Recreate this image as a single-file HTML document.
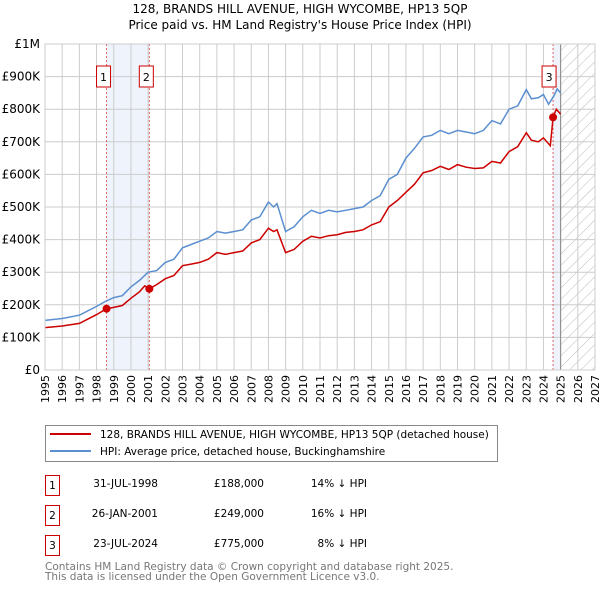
<!DOCTYPE html>
<html><head><meta charset="utf-8"><style>
body{margin:0;background:#fff;font-family:"DejaVu Sans","Liberation Sans",sans-serif;}
svg text{font-family:"DejaVu Sans","Liberation Sans",sans-serif;}
</style></head><body>
<svg id="c" width="600" height="590" xmlns="http://www.w3.org/2000/svg">
<defs><pattern id="hatch" width="8" height="8" patternUnits="userSpaceOnUse" patternTransform="rotate(45)"><line x1="0" y1="0" x2="0" y2="8" stroke="#bbb" stroke-width="1"/></pattern></defs>
<text x="300" y="13" text-anchor="middle" font-size="12">128, BRANDS HILL AVENUE, HIGH WYCOMBE, HP13 5QP</text>
<text x="300" y="29" text-anchor="middle" font-size="12">Price paid vs. HM Land Registry's House Price Index (HPI)</text>
<g id="plot"></g>
<g>
<rect x="45.5" y="425.5" width="452" height="36" fill="#fff" stroke="#888"/>
<line x1="50" y1="434" x2="91" y2="434" stroke="#cc0000" stroke-width="2"/>
<text x="100" y="438" font-size="10.5">128, BRANDS HILL AVENUE, HIGH WYCOMBE, HP13 5QP (detached house)</text>
<line x1="50" y1="451" x2="91" y2="451" stroke="#5b8fd0" stroke-width="2"/>
<text x="100" y="455" font-size="10.5">HPI: Average price, detached house, Buckinghamshire</text>
</g>
<g font-size="10.5">
<g><rect x="45.5" y="475.5" width="14" height="20" fill="none" stroke="#cc0000"/><text x="52.5" y="489" text-anchor="middle">1</text><text x="158" y="487" text-anchor="end">31-JUL-1998</text><text x="264" y="487" text-anchor="end">£188,000</text><text x="367" y="487" text-anchor="end">14% ↓ HPI</text></g>
<g><rect x="45.5" y="505.5" width="14" height="20" fill="none" stroke="#cc0000"/><text x="52.5" y="519" text-anchor="middle">2</text><text x="158" y="517" text-anchor="end">26-JAN-2001</text><text x="264" y="517" text-anchor="end">£249,000</text><text x="367" y="517" text-anchor="end">16% ↓ HPI</text></g>
<g><rect x="45.5" y="535.5" width="14" height="20" fill="none" stroke="#cc0000"/><text x="52.5" y="549" text-anchor="middle">3</text><text x="158" y="547" text-anchor="end">23-JUL-2024</text><text x="264" y="547" text-anchor="end">£775,000</text><text x="367" y="547" text-anchor="end">8% ↓ HPI</text></g>
</g>
<text x="45" y="570" font-size="10.5" fill="#777">Contains HM Land Registry data © Crown copyright and database right 2025.</text>
<text x="45" y="580" font-size="10.5" fill="#777">This data is licensed under the Open Government Licence v3.0.</text>
</svg>
<script>
const hpiT=[1995,1996,1997,1998,1998.5,1999,1999.5,2000,2000.5,2001,2001.5,2002,2002.5,2003,2003.5,2004,2004.5,2005,2005.5,2006,2006.5,2007,2007.5,2008,2008.3,2008.5,2009,2009.5,2010,2010.5,2011,2011.5,2012,2012.5,2013,2013.5,2014,2014.5,2015,2015.5,2016,2016.5,2017,2017.5,2018,2018.5,2019,2019.5,2020,2020.5,2021,2021.5,2022,2022.5,2023,2023.3,2023.7,2024,2024.3,2024.6,2024.8,2025];
const hpiV=[152,158,168,195,210,222,228,255,275,300,305,330,340,375,385,395,405,425,420,425,430,460,470,515,500,510,425,440,470,490,480,490,485,490,495,500,520,535,585,600,650,680,715,720,735,725,735,730,725,735,765,755,800,810,860,832,835,845,815,840,862,850];
const ppT=[1995,1996,1997,1998,1998.58,1999,1999.5,2000,2000.5,2000.8,2001.07,2001.5,2002,2002.5,2003,2003.5,2004,2004.5,2005,2005.5,2006,2006.5,2007,2007.5,2008,2008.3,2008.5,2009,2009.5,2010,2010.5,2011,2011.5,2012,2012.5,2013,2013.5,2014,2014.5,2015,2015.5,2016,2016.5,2017,2017.5,2018,2018.5,2019,2019.5,2020,2020.5,2021,2021.5,2022,2022.5,2023,2023.3,2023.7,2024,2024.4,2024.56,2024.75,2025];
const ppV=[130,135,143,170,188,192,198,220,240,258,249,262,280,290,320,325,330,340,360,355,360,365,390,400,435,425,430,360,370,395,410,405,412,415,422,425,430,445,455,500,520,545,570,605,612,625,615,630,622,618,620,640,635,670,685,728,705,700,712,688,775,800,785];
const saleT=[1998.58,2001.07,2024.56];
const saleV=[188,249,775];
const saleLabels=["1","2","3"];
const yTicks=[0,100,200,300,400,500,600,700,800,900,1000];
const yTickLabels=["£0","£100K","£200K","£300K","£400K","£500K","£600K","£700K","£800K","£900K","£1M"];
const xYears=[1995,1996,1997,1998,1999,2000,2001,2002,2003,2004,2005,2006,2007,2008,2009,2010,2011,2012,2013,2014,2015,2016,2017,2018,2019,2020,2021,2022,2023,2024,2025,2026,2027];
const X0=45,X1=595,Y0=370,Y1=44;
const xs=t=>X0+(t-1995)/(2027-1995)*(X1-X0);
const ys=v=>Y0-v/1000*(Y0-Y1);
const NS="http://www.w3.org/2000/svg";
const g=document.getElementById('plot');
function mk(tag,attrs,parent){const e=document.createElementNS(NS,tag);for(const k in attrs)e.setAttribute(k,attrs[k]);(parent||g).appendChild(e);return e;}
let e=mk('rect',{x:xs(saleT[0]),y:Y1,width:xs(saleT[1])-xs(saleT[0]),height:Y0-Y1,fill:'#eef3fc'});


e=mk('rect',{x:xs(saleT[2]),y:Y1,width:xs(2025)-xs(saleT[2]),height:Y0-Y1,fill:'#eef3fc'});


e=mk('rect',{x:xs(2025),y:Y1,width:xs(2027)-xs(2025),height:Y0-Y1,fill:'url(#hatch)'});


xYears.forEach(y=>{const l=mk('line',{x1:xs(y),x2:xs(y),y1:Y1,y2:Y0,stroke:'#ccc','stroke-width':1});


const t=mk('text',{x:0,y:0,'font-size':11,'text-anchor':'end',transform:`translate(${xs(y)+4},${Y0+5}) rotate(-90)`});t.textContent=y;

});
yTicks.forEach((v,i)=>{const l=mk('line',{x1:X0,x2:X1,y1:ys(v),y2:ys(v),stroke:'#ccc','stroke-width':1});


const t=mk('text',{x:X0-5,y:ys(v)+4,'font-size':12,'text-anchor':'end'});t.textContent=yTickLabels[i];

});
e=mk('line',{x1:xs(2025),x2:xs(2025),y1:Y1,y2:Y0,stroke:'#888','stroke-width':1});


saleT.forEach(t=>{const l=mk('line',{x1:xs(t),x2:xs(t),y1:Y1,y2:Y0,stroke:'#e06060','stroke-width':1,'stroke-dasharray':'2,2'});

});
function path(T,V){return T.map((t,i)=>(i?'L':'M')+xs(t).toFixed(1)+','+ys(V[i]).toFixed(1)).join('');}
e=mk('path',{d:path(hpiT,hpiV),fill:'none',stroke:'#5b8fd0','stroke-width':1.5});


e=mk('path',{d:path(ppT,ppV),fill:'none',stroke:'#cc0000','stroke-width':1.5});


saleT.forEach((t,i)=>{const c=mk('circle',{cx:xs(t),cy:ys(saleV[i]),r:4,fill:'#cc0000'});


const bx=xs(t)-(i==2?4:3);
const r=mk('rect',{x:bx-7,y:66,width:14,height:21,fill:'#fff',stroke:'#cc0000'});


const tx=mk('text',{x:bx,y:81,'font-size':11,'text-anchor':'middle'});tx.textContent=saleLabels[i];

});
e=mk('rect',{x:X0,y:Y1,width:X1-X0,height:Y0-Y1,fill:'none',stroke:'#ccc'});


</script>
</body></html>
